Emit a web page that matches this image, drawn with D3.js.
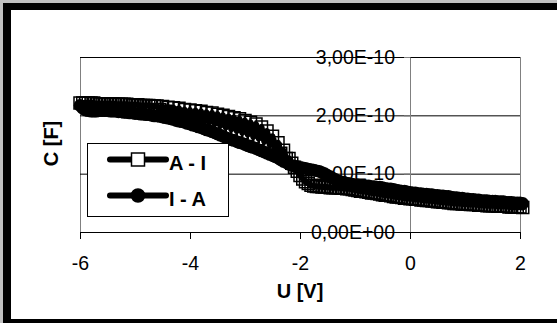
<!DOCTYPE html>
<html>
<head>
<meta charset="utf-8">
<script src="https://cdn.jsdelivr.net/npm/d3@7"></script>
<style>
  html, body { margin: 0; padding: 0; background: #c0c0c0; }
  svg { display: block; }
  text { font-family: "Liberation Sans", Arial, sans-serif; }
</style>
</head>
<body>
<div class="chart"></div>
<script>
// Sweep voltage U [V]
const voltage = [
  -6.00,-5.95,-5.90,-5.85,-5.80,-5.75,-5.70,-5.65,-5.60,-5.55,
  -5.50,-5.45,-5.40,-5.35,-5.30,-5.25,-5.20,-5.15,-5.10,-5.05,
  -5.00,-4.95,-4.90,-4.85,-4.80,-4.75,-4.70,-4.65,-4.60,-4.55,
  -4.50,-4.45,-4.40,-4.35,-4.30,-4.25,-4.20,-4.15,-4.10,-4.05,
  -4.00,-3.95,-3.90,-3.85,-3.80,-3.75,-3.70,-3.65,-3.60,-3.55,
  -3.50,-3.45,-3.40,-3.35,-3.30,-3.25,-3.20,-3.15,-3.10,-3.05,
  -3.00,-2.95,-2.90,-2.85,-2.80,-2.75,-2.70,-2.65,-2.60,-2.55,
  -2.50,-2.45,-2.40,-2.35,-2.30,-2.25,-2.20,-2.15,-2.10,-2.05,
  -2.00,-1.95,-1.90,-1.85,-1.80,-1.75,-1.70,-1.65,-1.60,-1.55,
  -1.50,-1.45,-1.40,-1.35,-1.30,-1.25,-1.20,-1.15,-1.10,-1.05,
  -1.00,-0.95,-0.90,-0.85,-0.80,-0.75,-0.70,-0.65,-0.60,-0.55,
  -0.50,-0.45,-0.40,-0.35,-0.30,-0.25,-0.20,-0.15,-0.10,-0.05,
   0.00, 0.05, 0.10, 0.15, 0.20, 0.25, 0.30, 0.35, 0.40, 0.45,
   0.50, 0.55, 0.60, 0.65, 0.70, 0.75, 0.80, 0.85, 0.90, 0.95,
   1.00, 1.05, 1.10, 1.15, 1.20, 1.25, 1.30, 1.35, 1.40, 1.45,
   1.50, 1.55, 1.60, 1.65, 1.70, 1.75, 1.80, 1.85, 1.90, 1.95,
   2.00, 2.05
];

// Capacitance, units of 1E-10 F (A - I scatters between two levels around -4.5..-2.2 V)
const capAI = [
  2.21,2.21,2.21,2.21,2.21,2.21,2.20,2.20,2.20,2.20,
  2.20,2.20,2.20,2.19,2.19,2.19,2.19,2.19,2.18,2.18,
  2.18,2.18,2.17,2.17,2.17,2.17,2.16,2.16,2.16,2.10,
  2.15,2.07,2.14,2.04,2.13,2.00,2.12,1.99,2.10,1.97,
  2.09,1.95,2.08,1.92,2.07,1.90,2.05,1.88,2.04,1.85,
  2.02,1.82,2.00,1.79,1.98,1.76,1.96,1.73,1.94,1.70,
  1.91,1.67,1.88,1.63,1.85,1.60,1.80,1.55,1.73,1.49,
  1.64,1.42,1.53,1.35,1.40,1.26,1.26,1.18,1.11,1.04,
  0.97,0.91,0.86,0.83,0.80,0.79,0.78,0.78,0.77,0.77,
  0.77,0.76,0.76,0.76,0.76,0.75,0.75,0.74,0.74,0.73,
  0.72,0.71,0.70,0.70,0.69,0.68,0.67,0.67,0.66,0.65,
  0.64,0.63,0.63,0.62,0.61,0.60,0.60,0.59,0.58,0.58,
  0.57,0.57,0.56,0.56,0.55,0.55,0.54,0.54,0.53,0.53,
  0.52,0.52,0.51,0.51,0.50,0.50,0.49,0.49,0.49,0.48,
  0.48,0.48,0.47,0.47,0.47,0.46,0.46,0.46,0.45,0.45,
  0.45,0.45,0.44,0.44,0.44,0.44,0.43,0.43,0.43,0.43,
  0.43,0.42
];

const capIA = [
  2.17,2.12,2.09,2.08,2.07,2.07,2.07,2.08,2.08,2.08,
  2.08,2.07,2.07,2.07,2.06,2.06,2.05,2.05,2.04,2.04,
  2.03,2.03,2.02,2.02,2.01,2.01,2.00,1.99,1.99,1.98,
  1.97,1.96,1.95,1.94,1.93,1.91,1.90,1.89,1.88,1.86,
  1.85,1.83,1.82,1.80,1.79,1.77,1.75,1.74,1.72,1.70,
  1.68,1.66,1.64,1.62,1.60,1.58,1.57,1.55,1.53,1.52,
  1.50,1.48,1.46,1.45,1.43,1.41,1.39,1.37,1.35,1.33,
  1.31,1.29,1.27,1.24,1.21,1.19,1.16,1.14,1.13,1.12,
  1.11,1.10,1.09,1.08,1.07,1.06,1.05,1.04,1.02,1.00,
  0.97,0.95,0.92,0.90,0.87,0.86,0.85,0.84,0.83,0.82,
  0.81,0.81,0.80,0.80,0.79,0.79,0.78,0.78,0.77,0.77,
  0.76,0.75,0.74,0.74,0.73,0.72,0.71,0.70,0.70,0.69,
  0.68,0.67,0.67,0.66,0.66,0.65,0.65,0.64,0.64,0.63,
  0.63,0.62,0.62,0.61,0.61,0.60,0.59,0.59,0.58,0.58,
  0.57,0.57,0.56,0.56,0.55,0.55,0.54,0.54,0.54,0.53,
  0.53,0.53,0.52,0.52,0.52,0.51,0.51,0.51,0.50,0.50,
  0.50,0.49
];

const seriesNames = ["A - I", "I - A"];
const xTicks = [-6, -4, -2, 0, 2];
const xTickLabels = ["-6", "-4", "-2", "0", "2"];
const yTicks = [0, 1, 2, 3];
const yTickLabels = ["0,00E+00", "1,00E-10", "2,00E-10", "3,00E-10"];

const width = 557, height = 323;
const plot = { left: 80, right: 520, top: 57, bottom: 232 };

const svg = d3.select(".chart")
    .append("svg")
    .attr("width", width)
    .attr("height", height);

// Picture frame
svg.append("rect").attr("width", width).attr("height", height).attr("fill", "#c0c0c0");
svg.append("rect").attr("x", 3).attr("y", 3).attr("width", width).attr("height", height).attr("fill", "#000");
svg.append("rect").attr("x", 11).attr("y", 10).attr("width", width).attr("height", 309).attr("fill", "#fff");

// Scales
const scaleX = d3.scaleLinear()
    .domain([-6, 2])
    .range([plot.left, plot.right]);

const scaleY = d3.scaleLinear()
    .domain([0, 3])
    .range([plot.bottom, plot.top]);

// Plot area border
svg.append("rect")
    .attr("x", plot.left + 0.5)
    .attr("y", plot.top + 0.5)
    .attr("width", plot.right - plot.left)
    .attr("height", plot.bottom - plot.top)
    .attr("fill", "none")
    .attr("stroke", "#808080");

// Horizontal grid
const grid = svg.append("g")
    .attr("transform", "translate(" + plot.left + ",0)")
    .call(d3.axisLeft(scaleY)
        .tickValues(yTicks)
        .tickSize(-(plot.right - plot.left))
        .tickSizeOuter(0)
        .tickFormat(""));
grid.select(".domain").remove();
grid.selectAll(".tick line").attr("stroke", "#000");

// Y-Axis, crossing at U = 0
const yAxis = svg.append("g")
    .attr("transform", "translate(" + Math.round(scaleX(0)) + ",0)")
    .call(d3.axisLeft(scaleY)
        .tickValues(yTicks)
        .tickSize(6)
        .tickSizeOuter(0)
        .tickPadding(9)
        .tickFormat((d, i) => yTickLabels[i]));
yAxis.attr("font-family", null).attr("font-size", 19.5);
yAxis.select(".domain").attr("stroke", "#808080");
yAxis.selectAll(".tick line").attr("stroke", "#808080");
yAxis.selectAll(".tick text").attr("fill", "#000");

// X-Axis
const xAxis = svg.append("g")
    .attr("transform", "translate(0," + plot.bottom + ")")
    .call(d3.axisBottom(scaleX)
        .tickValues(xTicks)
        .tickSize(7)
        .tickSizeOuter(0)
        .tickPadding(17)
        .tickFormat((d, i) => xTickLabels[i]));
xAxis.attr("font-family", null).attr("font-size", 19.5);
xAxis.select(".domain").attr("stroke", "#000");
xAxis.selectAll(".tick line").attr("stroke", "#000");
xAxis.selectAll(".tick text").attr("fill", "#000");

// Axis titles
svg.append("text")
    .attr("x", 300)
    .attr("y", 298)
    .attr("text-anchor", "middle")
    .attr("font-size", 20)
    .attr("font-weight", "bold")
    .text("U [V]");

svg.append("text")
    .attr("transform", "translate(57.5,143.5) rotate(-90)")
    .attr("text-anchor", "middle")
    .attr("font-size", 20)
    .attr("font-weight", "bold")
    .text("C [F]");

// Series
const lineFunc = (values) => d3.line()
    .x((d, i) => scaleX(voltage[i]))
    .y((d) => scaleY(d))(values);

const squareSym = d3.symbol().type(d3.symbolSquare).size(144);
const circleSym = d3.symbol().type(d3.symbolCircle).size(125);

// A - I : square markers
svg.append("path")
    .attr("d", lineFunc(capAI))
    .attr("fill", "none")
    .attr("stroke", "#000")
    .attr("stroke-width", 6)
    .attr("stroke-linejoin", "round")
    .attr("stroke-linecap", "round");

svg.append("g")
    .selectAll("path")
    .data(capAI)
    .enter().append("path")
    .attr("transform", (d, i) => "translate(" + scaleX(voltage[i]) + "," + scaleY(d) + ")")
    .attr("d", squareSym)
    .attr("fill", "none")
    .attr("stroke", "#000")
    .attr("stroke-width", 1.5);

// I - A : filled circles
svg.append("path")
    .attr("d", lineFunc(capIA))
    .attr("fill", "none")
    .attr("stroke", "#000")
    .attr("stroke-width", 6)
    .attr("stroke-linejoin", "round")
    .attr("stroke-linecap", "round");

svg.append("g")
    .selectAll("path")
    .data(capIA)
    .enter().append("path")
    .attr("transform", (d, i) => "translate(" + scaleX(voltage[i]) + "," + scaleY(d) + ")")
    .attr("d", circleSym)
    .attr("fill", "#000");

// Legend
const legend = svg.append("g");

legend.append("rect")
    .attr("x", 87.5)
    .attr("y", 143.5)
    .attr("width", 141)
    .attr("height", 73)
    .attr("fill", "#fff")
    .attr("stroke", "#000");

const rowY = [159.5, 195.5];
const legendSym = [
    d3.symbol().type(d3.symbolSquare).size(169),
    d3.symbol().type(d3.symbolCircle).size(135)
];

seriesNames.forEach((name, i) => {
    legend.append("line")
        .attr("x1", 110).attr("x2", 166)
        .attr("y1", rowY[i]).attr("y2", rowY[i])
        .attr("stroke", "#000")
        .attr("stroke-width", 6)
        .attr("stroke-linecap", "round");

    legend.append("path")
        .attr("transform", "translate(138," + rowY[i] + ")")
        .attr("d", legendSym[i])
        .attr("fill", i === 0 ? "#fff" : "#000")
        .attr("stroke", "#000")
        .attr("stroke-width", 1.5);

    legend.append("text")
        .attr("x", 169)
        .attr("y", rowY[i] + 10)
        .attr("font-size", 20)
        .attr("font-weight", "bold")
        .text(name);
});
</script>
</body>
</html>
